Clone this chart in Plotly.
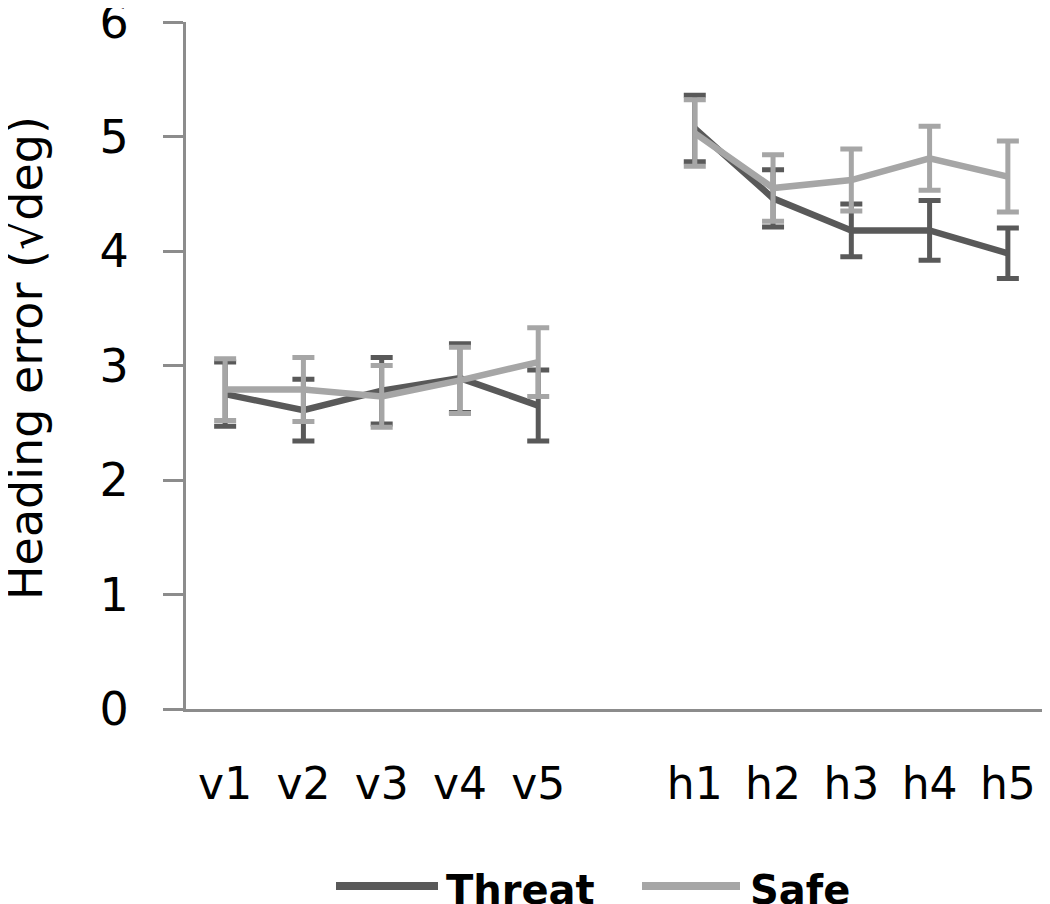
import plotly.graph_objects as go

categories = ["v1", "v2", "v3", "v4", "v5", " ", "h1", "h2", "h3", "h4", "h5"]
threat = [2.75, 2.61, 2.78, 2.89, 2.65, None, 5.07, 4.46, 4.18, 4.18, 3.98]
threat_err = [0.28, 0.27, 0.29, 0.30, 0.31, None, 0.29, 0.25, 0.23, 0.26, 0.22]
safe = [2.79, 2.79, 2.73, 2.87, 3.03, None, 5.03, 4.55, 4.62, 4.81, 4.65]
safe_err = [0.27, 0.28, 0.27, 0.29, 0.30, None, 0.29, 0.29, 0.27, 0.28, 0.31]
y_ticks = [0, 1, 2, 3, 4, 5, 6]

C_THREAT = "#595959"
C_SAFE = "#a6a6a6"
FONT = "DejaVu Sans"

fig = go.Figure()
for name, vals, errs, col in [("Threat", threat, threat_err, C_THREAT),
                              ("Safe", safe, safe_err, C_SAFE)]:
    fig.add_trace(go.Scatter(
        x=categories, y=vals, name=name, mode="lines",
        connectgaps=False,
        line=dict(color=col, width=6.5),
        error_y=dict(type="data", array=errs, visible=True,
                     color=col, thickness=5, width=11),
        showlegend=False,
    ))

# page body has an 8px default margin; compensate so the plot lands where the reference is
OFF = 8
W, H = 1050, 904
L, R, T, B = 178, 11, 14, 203
pw, ph = W - L - R, H - T - B

def px(x):
    return (x - OFF - L) / pw

def py(y):
    return (H - B - (y - OFF)) / ph

fig.update_layout(
    width=W, height=H,
    margin=dict(l=L, r=R, t=T, b=B, autoexpand=False),
    paper_bgcolor="white", plot_bgcolor="white",
    font=dict(family=FONT, color="black"),
    xaxis=dict(
        type="category", categoryorder="array", categoryarray=categories,
        range=[-0.5, 10.5], showgrid=False, zeroline=False,
        showline=True, linecolor="#8c8c8c", linewidth=3,
        ticks="", tickfont=dict(size=44, family=FONT),
        ticklabelstandoff=34, automargin=False,
    ),
    yaxis=dict(
        range=[0, 6], tickvals=y_ticks, showgrid=False, zeroline=False,
        showline=True, linecolor="#8c8c8c", linewidth=3,
        ticks="outside", ticklen=20, tickwidth=3, tickcolor="#8c8c8c",
        tickfont=dict(size=46, family=FONT), ticklabelstandoff=25,
        ticklabeloverflow="allow", automargin=False,
    ),
)

# y-axis title
fig.add_annotation(
    text="Heading error (√deg)", textangle=-90, showarrow=False,
    xref="paper", yref="paper", x=px(26), y=py(358),
    xanchor="center", yanchor="middle",
    font=dict(size=46, family=FONT, color="black"),
)

# legend (drawn manually to match the long line samples)
legend_items = [("Threat", C_THREAT, 336, 438, 444), ("Safe", C_SAFE, 642, 740, 748)]
for label, col, x0, x1, xt in legend_items:
    fig.add_shape(type="line", xref="paper", yref="paper",
                  x0=px(x0), x1=px(x1), y0=py(886), y1=py(886),
                  line=dict(color=col, width=8))
    fig.add_annotation(text="<b>%s</b>" % label, showarrow=False,
                       xref="paper", yref="paper", x=px(xt), y=py(890),
                       xanchor="left", yanchor="middle",
                       font=dict(size=40, family=FONT, color="black"))

fig.write_html("out.html")
